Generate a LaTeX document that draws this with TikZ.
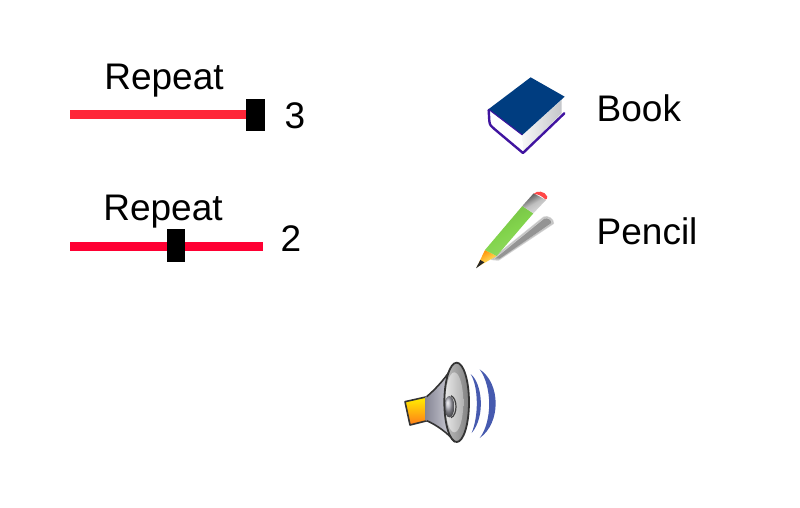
\documentclass[tikz,border=0pt]{standalone}
\usepackage{fontspec}
\setmainfont{Liberation Sans}
\usetikzlibrary{shadings,fadings}
\definecolor{barA}{RGB}{255,38,56}
\definecolor{barB}{RGB}{255,0,51}
\definecolor{bookblue}{RGB}{0,61,128}
\definecolor{bookedge}{RGB}{64,20,160}
\definecolor{pagegray}{RGB}{218,220,224}
\definecolor{pgreen}{RGB}{130,212,76}
\definecolor{wave}{RGB}{70,90,175}
\definecolor{conedark}{RGB}{135,135,150}
\definecolor{conelight}{RGB}{225,225,232}
\tikzset{
  lbl/.style={inner sep=0pt,font=\fontsize{37}{40}\selectfont,text=black},
  thumb/.style={fill=black,draw=none},
  zoomed/.style={x=0.3333pt,y=-0.3333pt},
}
\begin{document}
\begin{tikzpicture}[x=1pt,y=-1pt]
\useasboundingbox (0,0) rectangle (800,507);
\fill[white] (0,0) rectangle (800,507);
% sliders
\fill[barA] (69.5,110) rectangle (250,119);
\fill[thumb] (246,98.5) rectangle (264.5,131);
\fill[barB] (70,241.5) rectangle (263,250.5);
\fill[thumb] (167,228.7) rectangle (185,261.7);
\node[lbl] (r1) at (164,81) {Repeat};
\node[lbl] (r2) at (163,212) {Repeat};
\node[lbl] (n3) at (295,116) {3};
\node[lbl] (n2) at (291,239) {2};
\node[lbl,anchor=west] (book) at (596.5,108.5) {Book};
\node[lbl,anchor=west] (pencil) at (596.5,231) {Pencil};
% book
\begin{scope}[shift={(470,65)},zoomed]
  \fill[white] (55,133) -- (157,210) -- (160,262) -- (70,190) -- (60,175) -- cycle;
  \shade[left color=pagegray!80!black!10!white,right color=pagegray!90!black] (157,210) -- (275,105) -- (275,145) -- (160,258) -- cycle;
  \draw[bookedge,line width=2.4pt,line join=round,line cap=round] (56,135) -- (58,168) .. controls (59,180) and (64,185) .. (72,191) -- (159,264) -- (283,145);
  \fill[bookblue] (55,133) -- (182,37) -- (284,95) -- (157,210) -- cycle;
  \draw[bookedge,line width=1pt] (56,133) -- (157,210);
\end{scope}
% pencil
\begin{scope}[shift={(465,180)},zoomed]
  \fill[black!30,draw=black!30,line width=1.5pt,line join=round,opacity=.55] (80,238) -- (236,112) .. controls (248,106) and (266,118) .. (265,130) -- (100,240) -- cycle;
  \fill[black!42] (90,236) -- (238,116) .. controls (248,112) and (261,122) .. (259,129) -- (104,236) -- cycle;
  \shade[left color=orange!90!yellow,right color=yellow!50!white,shading angle=30] (60,210) -- (95,228) -- (35,262) -- cycle;
  \fill[black!85] (46,240) -- (58,247) -- (33,265) -- cycle;
  \shade[left color=pgreen!90!black,right color=pgreen!85!white,middle color=pgreen,shading angle=30] (60,210) -- (172,78) -- (205,100) -- (95,228) -- cycle;
  \shade[left color=black!70,right color=black!12,middle color=black!25,shading angle=30] (172,78) -- (206,40) -- (243,60) -- (205,100) -- cycle;
  \fill[red!72!white] (206,42) .. controls (215,30) and (240,33) .. (247,50) .. controls (247,56) and (244,60) .. (241,58) .. controls (230,48) and (220,42) .. (206,42) -- cycle;
\end{scope}
% speaker
\begin{scope}[shift={(395,355)},zoomed]
  \shade[top color=yellow!90!orange,bottom color=orange!85!red!90!white] (30,140) -- (97,125) -- (97,197) -- (45,210) -- cycle;
  \draw[black!80,line width=1.6pt,line join=round] (97,125) -- (30,140) -- (45,210) -- (97,197);
  \shade[left color=conedark,right color=conelight] (92,125) .. controls (125,100) and (160,60) .. (178,25) -- (190,262) .. controls (160,230) and (125,210) .. (92,197) -- cycle;
  \draw[black!80,line width=1.6pt,line join=round] (95,125) .. controls (125,100) and (160,60) .. (178,25);
  \draw[black!80,line width=1.6pt,line join=round] (95,197) .. controls (125,210) and (160,235) .. (180,261);
  \shade[left color=black!25,right color=black!50] (185,142) ellipse [x radius=37,y radius=119];
  \shade[left color=black!10,right color=black!30] (178,142) ellipse [x radius=27,y radius=90];
  \shade[ball color=conedark!70!white] (163,155) ellipse [x radius=15,y radius=32];
  \draw[black!75,line width=1.2pt] (168,122) .. controls (188,130) and (188,180) .. (168,188);
  \draw[black!80,line width=1.8pt] (185,142) ellipse [x radius=37,y radius=119];
  \fill[wave] (227,57) .. controls (262,85) and (272,185) .. (230,234) .. controls (252,180) and (250,95) .. (227,57) -- cycle;
  \fill[wave] (254,43) .. controls (318,85) and (318,205) .. (254,249) .. controls (292,200) and (292,95) .. (254,43) -- cycle;
\end{scope}
\end{tikzpicture}
\end{document}
